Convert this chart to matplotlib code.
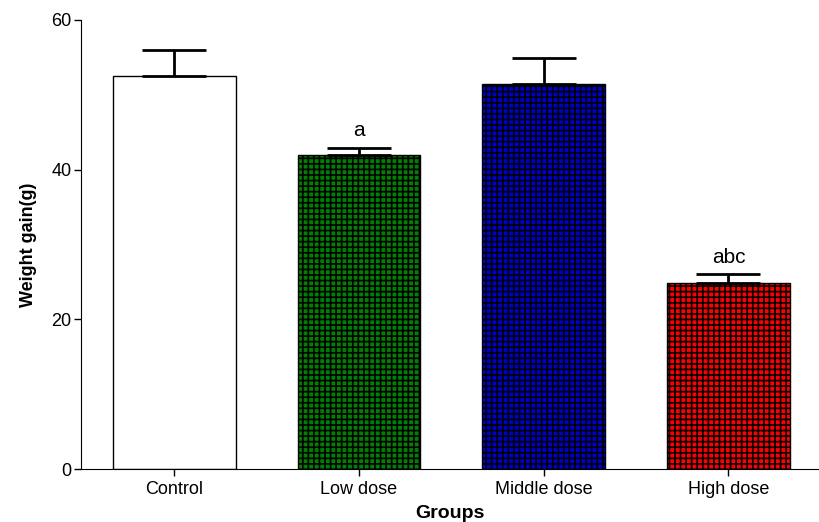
import matplotlib
matplotlib.use("Agg")
import matplotlib.pyplot as plt
import numpy as np

groups = ["Control", "Low dose", "Middle dose", "High dose"]
means = [52.5, 42.0, 51.5, 24.9]
sems = [3.5, 0.9, 3.4, 1.1]
labels = ["", "a", "", "abc"]
colors = ["white", "#008000", "#0000cc", "#ff0000"]
hatches = [None, "+++", "+++", "+++"]

plt.rcParams["font.family"] = ["Liberation Sans", "DejaVu Sans"]
plt.rcParams["hatch.linewidth"] = 1.2

fig = plt.figure(figsize=(8.19, 5.22), dpi=100)
ax = fig.add_axes([81 / 819, 1 - 469 / 522, 1 - 81 / 819, (469 - 20) / 522])

x = np.arange(len(groups))
for i in range(len(groups)):
    ax.bar(x[i], means[i], width=0.665, color=colors[i], edgecolor="black",
           linewidth=1.0, hatch=hatches[i], zorder=2)
ax.errorbar(x, means, yerr=[np.zeros(len(sems)), sems], fmt="none", ecolor="black",
            elinewidth=2, capsize=23, capthick=2, zorder=3)
for i, lab in enumerate(labels):
    if lab:
        ax.text(x[i], means[i] + sems[i] + 1.0, lab, ha="center", va="bottom", fontsize=15)

ax.set_xlim(-0.505, 3.49)
ax.set_ylim(0, 60)
ax.set_yticks([0, 20, 40, 60])
ax.set_xticks(x)
ax.set_xticklabels(groups, fontsize=13)
ax.tick_params(axis="y", labelsize=13, length=5, width=1, pad=2)
ax.tick_params(axis="x", length=5, width=1, pad=4)
ax.spines["top"].set_visible(False)
ax.spines["right"].set_visible(False)
ax.set_xlabel("Groups", fontsize=14, fontweight="bold", labelpad=5)
ax.set_ylabel("Weight gain(g)", fontsize=13, fontweight="bold", labelpad=10)

fig.savefig("out.png", dpi=100)
